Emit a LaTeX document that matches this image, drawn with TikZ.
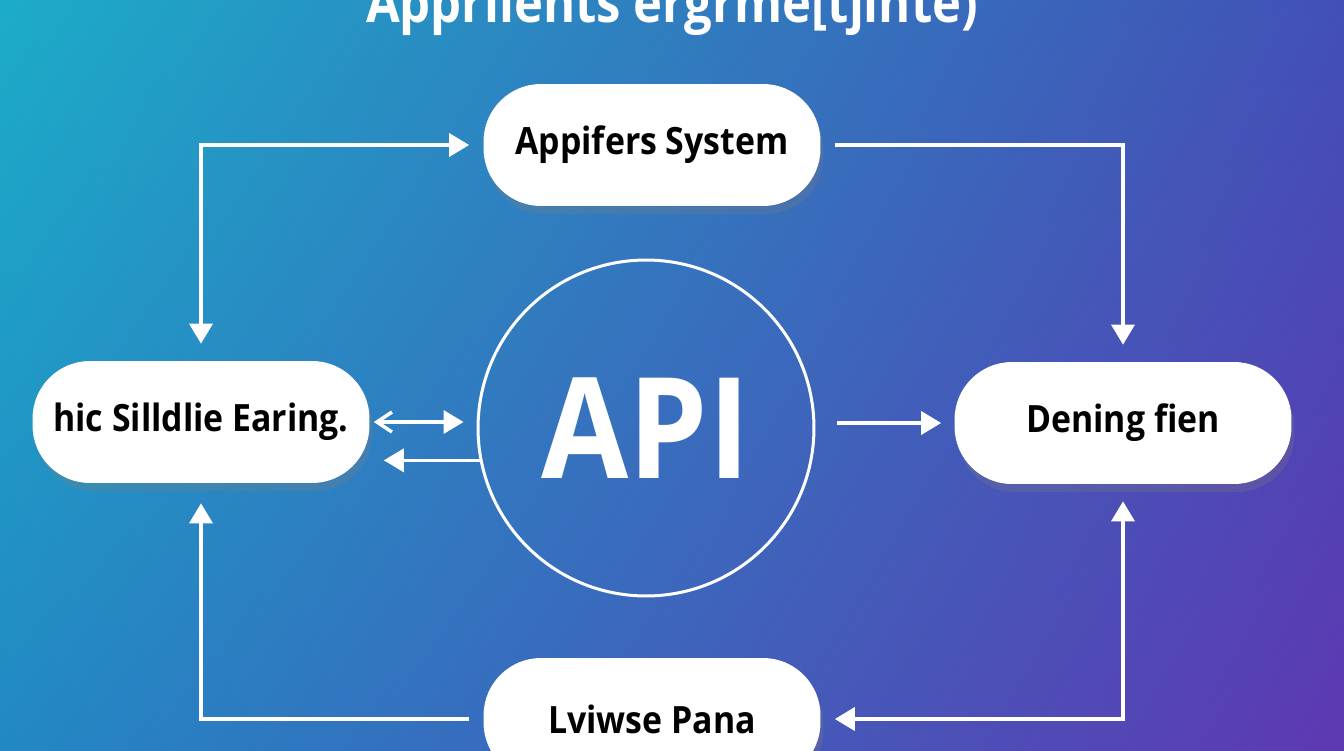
\documentclass[tikz,border=0pt]{standalone}
\usepackage{fontspec}
\setmainfont{Open Sans}
\newfontfamily\boxfont[FakeStretch=0.9]{Open Sans}
\newfontfamily\hubfont[FakeStretch=0.9]{Open Sans}
\usetikzlibrary{arrows.meta,shadows,shadings}

\definecolor{bgcyan}{RGB}{28,172,200}
\definecolor{bgblue}{RGB}{66,80,182}
\definecolor{bgteal}{RGB}{34,136,196}
\definecolor{bgpurple}{RGB}{94,56,178}

\begin{document}
\begin{tikzpicture}[x=0.02cm, y=-0.02cm,
    >={Triangle[length=0.4cm,width=0.46cm]},
    pill/.style={fill=white, rounded corners=1.15cm, minimum width=6.74cm,
        minimum height=2.44cm, text=black,
        font=\boxfont\bfseries\fontsize{21.4}{24}\selectfont,
        drop shadow={opacity=0.25, shadow xshift=0.06cm, shadow yshift=-0.16cm}},
    hub/.style={circle, draw=white, line width=0.06cm, minimum size=6.72cm,
        text=white, font=\hubfont\bfseries\fontsize{80}{88}\selectfont},
    link/.style={draw=white, line width=0.07cm}]

    \useasboundingbox (0,0) rectangle (1344,750);
    \clip (0,0) rectangle (1344,750);
    \shade[upper left=bgcyan, upper right=bgblue, lower left=bgteal,
        lower right=bgpurple] (0,0) rectangle (1344,750);

    \node[text=white, anchor=base, font=\boxfont\bfseries\fontsize{31}{36}\selectfont]
        (title) at (672,23) {Appriients ergrme[tjinte)};

    \node[pill] (top) at (652,145) {Appifers System};
    \node[pill] (left) at (201,422) {hic Silldlie Earing.};
    \node[pill] (right) at (1123,423) {Dening fien};
    \node[pill] (bottom) at (652,719) {Lviwse Pana};
    \node[hub] (api) at (646,428) {API};

    % loop round the outside
    \draw[link, <->, shorten <=0.34cm, shorten >=0.28cm] (left.north) |- (top.west);
    \draw[link, ->, shorten <=0.28cm, shorten >=0.34cm] (top.east) -| (right.north);
    \draw[link, <->, shorten <=0.34cm, shorten >=0.28cm] (right.south) |- (bottom.east);
    \draw[link, ->, shorten <=0.28cm, shorten >=0.4cm] (bottom.west) -| (left.south);

    % links at the hub
    \draw[link, {Straight Barb[length=0.3cm,width=0.4cm]}-{Triangle[length=0.4cm,width=0.46cm]},
        shorten <=0.08cm, shorten >=0.26cm] (left.east) -- (api.west |- left.east);
    \draw[link, ->, shorten >=0.28cm] (api.191.7) -- (api.191.7 -| left.east);
    \draw[link, ->, shorten <=0.44cm, shorten >=0.26cm] (api.east |- right.west) -- (right.west);
\end{tikzpicture}
\end{document}
